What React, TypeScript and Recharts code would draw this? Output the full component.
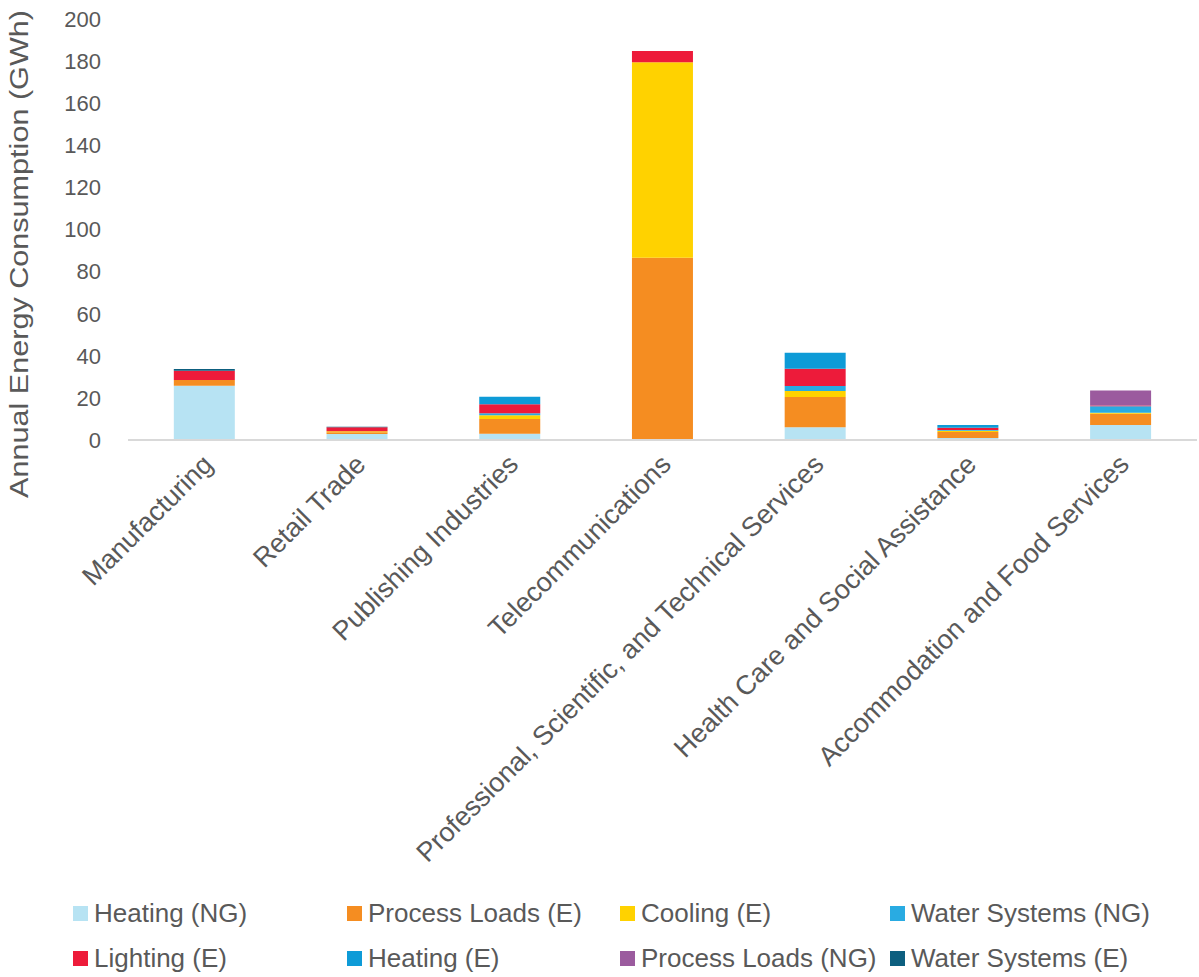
import { BarChart, Bar, XAxis, YAxis, Label } from "recharts";

const categories = [
  "Manufacturing",
  "Retail Trade",
  "Publishing Industries",
  "Telecommunications",
  "Professional, Scientific, and Technical Services",
  "Health Care and Social Assistance",
  "Accommodation and Food Services",
];

const heatingNG = [25.8, 2.9, 3.0, 0, 6.0, 0.9, 7.1];
const processLoadsE = [2.7, 0.8, 7.0, 86.6, 14.4, 2.9, 5.4];
const coolingE = [0, 0.4, 1.8, 92.8, 2.9, 0.6, 0.5];
const waterSystemsNG = [0, 0, 0.9, 0, 2.4, 0.3, 3.0];
const lightingE = [4.4, 2.0, 4.3, 5.4, 8.2, 1.1, 0.4];
const heatingE = [0, 0, 3.6, 0, 7.6, 1.3, 0];
const processLoadsNG = [0, 0, 0, 0, 0, 0, 7.1];
const waterSystemsE = [0.8, 0.2, 0, 0, 0, 0, 0];

const yTicks = [0, 20, 40, 60, 80, 100, 120, 140, 160, 180, 200];

const series = [
  { key: "heatingNG", name: "Heating (NG)", color: "#b7e3f3", values: heatingNG },
  { key: "processLoadsE", name: "Process Loads (E)", color: "#f58d21", values: processLoadsE },
  { key: "coolingE", name: "Cooling (E)", color: "#ffd200", values: coolingE },
  { key: "waterSystemsNG", name: "Water Systems (NG)", color: "#29abe2", values: waterSystemsNG },
  { key: "lightingE", name: "Lighting (E)", color: "#ed1b3a", values: lightingE },
  { key: "heatingE", name: "Heating (E)", color: "#0e9bd7", values: heatingE },
  { key: "processLoadsNG", name: "Process Loads (NG)", color: "#9b5b9e", values: processLoadsNG },
  { key: "waterSystemsE", name: "Water Systems (E)", color: "#0d5f7f", values: waterSystemsE },
];

const data = categories.map((name, i) => {
  const row: Record<string, any> = { name };
  series.forEach((s) => {
    row[s.key] = s.values[i];
  });
  return row;
});

const FONT = "'Liberation Sans', Arial, sans-serif";
const TEXT = "#595959";

function CategoryTick({ x, y, payload }: any) {
  const tx = x + 10;
  const ty = y + 18;
  return (
    <text
      x={tx}
      y={ty}
      textAnchor="end"
      fill={TEXT}
      fontSize={27}
      fontFamily={FONT}
      transform={`rotate(-45, ${tx}, ${ty})`}
    >
      {payload.value}
    </text>
  );
}

function YTitle({ viewBox }: any) {
  const cx = 28;
  const cy = viewBox.y + 235;
  return (
    <text
      x={cx}
      y={cy}
      textAnchor="middle"
      fill={TEXT}
      fontSize={26}
      fontFamily={FONT}
      textLength={488}
      lengthAdjust="spacingAndGlyphs"
      transform={`rotate(-90, ${cx}, ${cy})`}
    >
      Annual Energy Consumption (GWh)
    </text>
  );
}

const legendCols = [73, 347, 620, 890];

export default function App() {
  return (
    <div style={{ position: "absolute", left: 0, top: 0, width: 1199, height: 977, background: "#fff" }}>
      <BarChart
        width={1199}
        height={977}
        data={data}
        margin={{ top: 19, right: 2, bottom: 0, left: 0 }}
        barCategoryGap="30%"
      >
        <XAxis
          dataKey="name"
          interval={0}
          height={537}
          tickLine={false}
          axisLine={{ stroke: "#d9d9d9", strokeWidth: 2 }}
          tick={<CategoryTick />}
        />
        <YAxis
          width={128}
          domain={[0, 200]}
          ticks={yTicks}
          axisLine={false}
          tickLine={false}
          tickSize={0}
          tickMargin={27}
          tick={{ fill: TEXT, fontSize: 22, fontFamily: FONT }}
        >
          <Label content={<YTitle />} />
        </YAxis>
        {series.map((s) => (
          <Bar
            key={s.key}
            dataKey={s.key}
            name={s.name}
            stackId="a"
            fill={s.color}
            isAnimationActive={false}
          />
        ))}
      </BarChart>
      {series.map((s, i) => {
        const col = i % 4;
        const row = Math.floor(i / 4);
        return (
          <div
            key={s.key}
            style={{
              position: "absolute",
              left: legendCols[col],
              top: 896 + row * 45,
              display: "flex",
              alignItems: "center",
              fontFamily: FONT,
              fontSize: 26,
              color: TEXT,
              whiteSpace: "nowrap",
              lineHeight: "34px",
            }}
          >
            <span style={{ display: "inline-block", width: 15, height: 15, background: s.color, marginRight: 6 }} />
            {s.name}
          </div>
        );
      })}
    </div>
  );
}
